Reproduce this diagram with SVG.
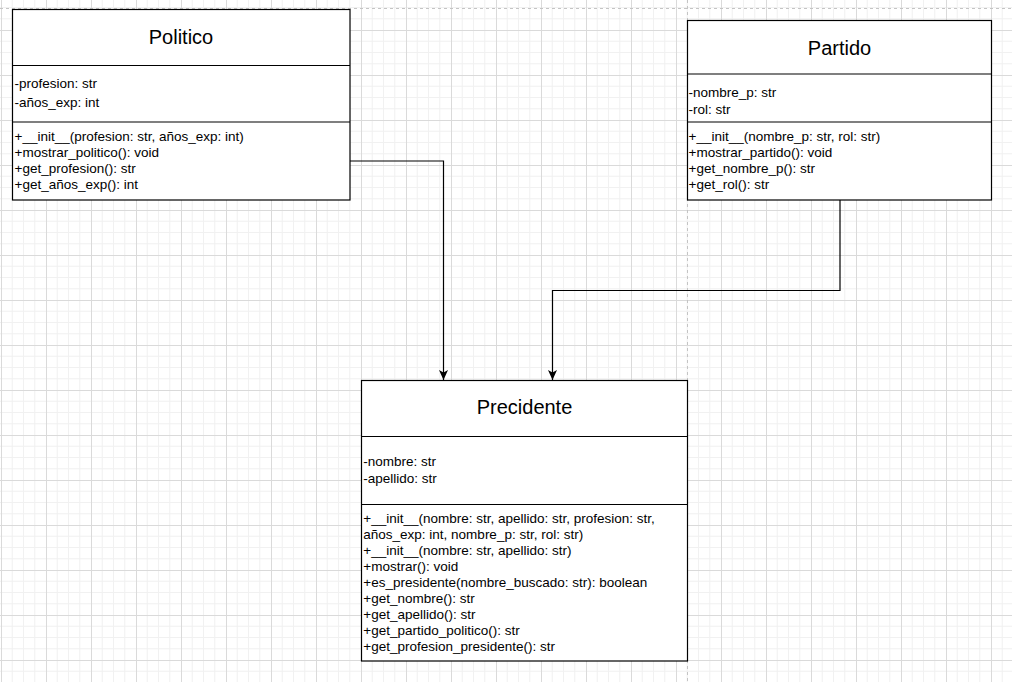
<svg xmlns="http://www.w3.org/2000/svg" width="1012" height="682" viewBox="0 0 1012 682">
<style>
.box{fill:#fff;stroke:#000;stroke-width:1.2}
.div{stroke:#000;stroke-width:1.2}
.title{font-family:"Liberation Sans",Arial,sans-serif;font-size:20px;fill:#000;text-anchor:middle}
.txt{font-family:"Liberation Sans",Arial,sans-serif;font-size:13.5px;fill:#000}
.edge{fill:none;stroke:#000;stroke-width:1.2}
.page{stroke:#c4c4c4;stroke-width:1;stroke-dasharray:3 3}
</style>
<defs>
<pattern id="grid" x="1" y="30" width="45" height="45" patternUnits="userSpaceOnUse">
<rect x="0" y="0" width="45" height="45" fill="#fff"/>
<path d="M11.25 0V45M22.5 0V45M33.75 0V45M0 11.25H45M0 22.5H45M0 33.75H45" stroke="#f1f1f1" stroke-width="1"/>
<path d="M0.5 0V45M0 0.5H45" stroke="#dadada" stroke-width="1"/>
</pattern>
<marker id="arr" viewBox="0 0 10 9" refX="10" refY="4.5" markerWidth="10" markerHeight="9" markerUnits="userSpaceOnUse" orient="auto">
<path d="M0 0L10 4.5L0 9L2.5 4.5Z" fill="#000"/>
</marker>
</defs>
<rect width="1012" height="682" fill="url(#grid)"/>
<path class="page" d="M0 8.5H1012M687.5 0V682"/>
<g id="connectors">
<path class="edge" d="M350 161H443.5V380" marker-end="url(#arr)"/>
<path class="edge" d="M840 200V290.5H552.5V380" marker-end="url(#arr)"/>
</g>
<g id="politico">
<rect class="box" x="12.5" y="9.5" width="337.5" height="190.5"/>
<path class="div" d="M12.5 65.5H350M12.5 122H350"/>
<text class="title" x="181" y="44.3">Politico</text>
<text class="txt" x="14.5" y="88.3">-profesion: str</text>
<text class="txt" x="14.5" y="106.7">-años_exp: int</text>
<text class="txt" x="14.5" y="141">+__init__(profesion: str, años_exp: int)</text>
<text class="txt" x="14.5" y="157.3">+mostrar_politico(): void</text>
<text class="txt" x="14.5" y="173.3">+get_profesion(): str</text>
<text class="txt" x="14.5" y="189.3">+get_años_exp(): int</text>
</g>
<g id="partido">
<rect class="box" x="687.5" y="20.5" width="304" height="179.5"/>
<path class="div" d="M687.5 74H991.5M687.5 122H991.5"/>
<text class="title" x="839.5" y="55">Partido</text>
<text class="txt" x="688.5" y="96.7">-nombre_p: str</text>
<text class="txt" x="688.5" y="114">-rol: str</text>
<text class="txt" x="688.5" y="141">+__init__(nombre_p: str, rol: str)</text>
<text class="txt" x="688.5" y="157.3">+mostrar_partido(): void</text>
<text class="txt" x="688.5" y="173.3">+get_nombre_p(): str</text>
<text class="txt" x="688.5" y="189.3">+get_rol(): str</text>
</g>
<g id="precidente">
<rect class="box" x="361.5" y="380.5" width="326" height="280.5"/>
<path class="div" d="M361.5 436.5H687.5M361.5 504.5H687.5"/>
<text class="title" x="524.5" y="414.3">Precidente</text>
<text class="txt" x="363.3" y="465.7">-nombre: str</text>
<text class="txt" x="363.3" y="483.3">-apellido: str</text>
<text class="txt" x="363.3" y="522.7">+__init__(nombre: str, apellido: str, profesion: str,</text>
<text class="txt" x="363.3" y="538.7">años_exp: int, nombre_p: str, rol: str)</text>
<text class="txt" x="363.3" y="554.8">+__init__(nombre: str, apellido: str)</text>
<text class="txt" x="363.3" y="570.9">+mostrar(): void</text>
<text class="txt" x="363.3" y="587">+es_presidente(nombre_buscado: str): boolean</text>
<text class="txt" x="363.3" y="603.1">+get_nombre(): str</text>
<text class="txt" x="363.3" y="619.2">+get_apellido(): str</text>
<text class="txt" x="363.3" y="635.3">+get_partido_politico(): str</text>
<text class="txt" x="363.3" y="651.4">+get_profesion_presidente(): str</text>
</g>
</svg>
